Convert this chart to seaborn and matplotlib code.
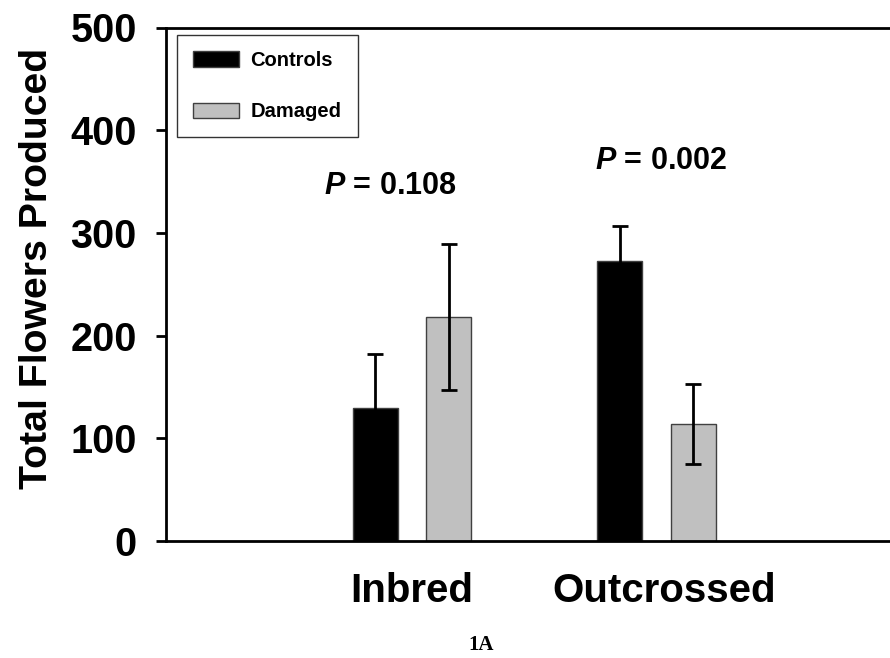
import pandas as pd
import matplotlib
matplotlib.use("Agg")
import matplotlib.pyplot as plt
import matplotlib.transforms as mtransforms
import seaborn as sns

# values (means and standard errors)
groups = ["Inbred", "Outcrossed"]
treatments = ["Controls", "Damaged"]
controls = [129.5, 273.0]
damaged = [218.0, 114.0]
controls_se = [52.3, 34.0]
damaged_se = [70.8, 39.0]
p_labels = ["$\\mathbfit{P}$ = 0.108", "$\\mathbfit{P}$ = 0.002"]

df = pd.DataFrame({
    "group": groups * 2,
    "treatment": [treatments[0]] * 2 + [treatments[1]] * 2,
    "flowers": controls + damaged,
    "se": controls_se + damaged_se,
})

plt.rcParams["font.family"] = ["Liberation Sans", "DejaVu Sans"]
plt.rcParams["mathtext.fontset"] = "custom"
plt.rcParams["mathtext.bfit"] = "Liberation Sans:bold:italic"
plt.rcParams["mathtext.bf"] = "Liberation Sans:bold"

fig = plt.figure(figsize=(8.9, 6.58), dpi=100)
ax = fig.add_axes([166 / 890, 1 - 541 / 658, 1 - 166 / 890, (541 - 27.5) / 658])

sns.barplot(data=df, x="group", y="flowers", hue="treatment",
            palette=["black", "#c0c0c0"], errorbar=None, width=0.6, gap=0.39,
            edgecolor="#404040", linewidth=1, saturation=1, ax=ax)

# error bars on top of each bar, one container per treatment
for cont, trt in zip(ax.containers, treatments):
    sub = df[df["treatment"] == trt]
    for bar, (_, row) in zip(cont.patches, sub.iterrows()):
        xc = bar.get_x() + bar.get_width() / 2
        ax.errorbar(xc, row["flowers"], yerr=row["se"], fmt="none",
                    ecolor="black", elinewidth=2, capsize=6, capthick=2, zorder=5)

ax.text(-0.088, 346, p_labels[0], ha="center", va="center",
        fontsize=22, fontweight="bold")
ax.text(1.018, 370, p_labels[1], ha="center", va="center",
        fontsize=22, fontweight="bold")

ax.set_ylim(0, 500)
ax.set_xlim(-1.006, 1.955)
ax.set_yticks([0, 100, 200, 300, 400, 500])
ax.set_xlabel("")
ax.set_ylabel("Total Flowers Produced", fontsize=28.3, fontweight="bold")
ax.yaxis.set_label_coords((55 - 166) / 724, (541 - 268) / 513.5)
ax.tick_params(axis="y", labelsize=28.5, length=7, width=2, pad=14, direction="out")
ax.tick_params(axis="x", labelsize=29, length=0, pad=22)
for lab in ax.get_xticklabels() + ax.get_yticklabels():
    lab.set_fontweight("bold")

# the Outcrossed label sits a little right of its group in the original
xlabs = ax.get_xticklabels()
xlabs[1].set_transform(xlabs[1].get_transform()
                       + mtransforms.ScaledTranslation(8 / 100, 0, fig.dpi_scale_trans))

for side in ["left", "bottom", "top"]:
    ax.spines[side].set_linewidth(2)
    ax.spines[side].set_color("black")
ax.spines["right"].set_visible(False)

handles, labels = ax.get_legend_handles_labels()
leg = ax.legend(handles, labels, loc="upper left",
                bbox_to_anchor=(11 / 724, 1 - 7.5 / 513.5), borderaxespad=0,
                frameon=True, fancybox=False, edgecolor="black",
                handlelength=2.3, handleheight=0.8, handletextpad=0.55,
                labelspacing=1.6, borderpad=0.8, prop={"weight": "bold", "size": 14.5})
leg.get_frame().set_linewidth(1)

fig.text(481 / 890, 1 - 645 / 658, "1A", ha="center", va="center",
         fontsize=15, fontweight="bold", family="Liberation Serif")

fig.savefig("out.png", dpi=100)
